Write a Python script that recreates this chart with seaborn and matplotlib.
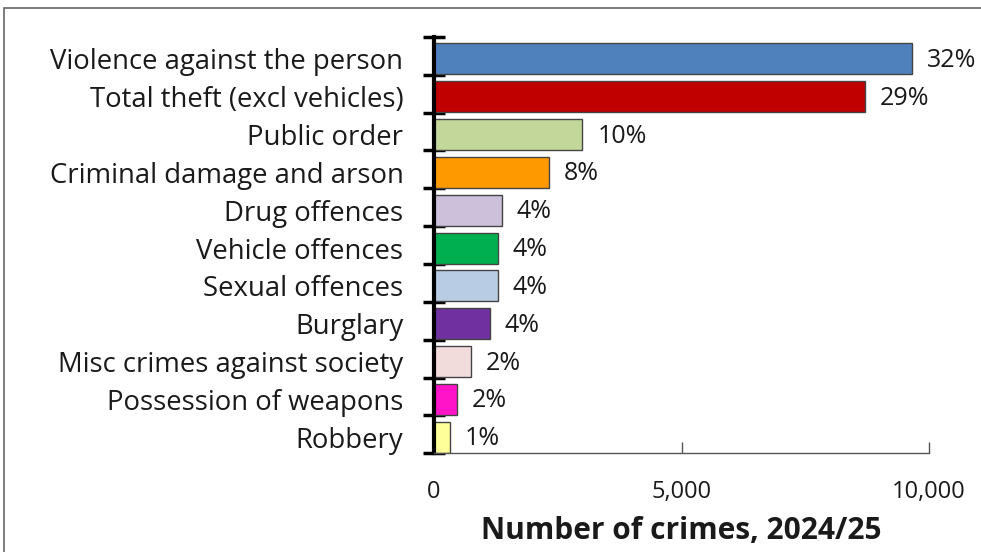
import matplotlib

matplotlib.use("Agg")
import matplotlib.pyplot as plt
import numpy as np
import pandas as pd
import seaborn as sns
from matplotlib.patches import Rectangle
from matplotlib.ticker import FixedLocator, FuncFormatter

categories = [
    "Violence against the person",
    "Total theft (excl vehicles)",
    "Public order",
    "Criminal damage and arson",
    "Drug offences",
    "Vehicle offences",
    "Sexual offences",
    "Burglary",
    "Misc crimes against society",
    "Possession of weapons",
    "Robbery",
]
crimes = [9650, 8700, 3000, 2320, 1370, 1290, 1290, 1130, 750, 465, 320]
shares = ["32%", "29%", "10%", "8%", "4%", "4%", "4%", "4%", "2%", "2%", "1%"]
colours = [
    "#4F81BD", "#C00000", "#C4D79B", "#FF9900", "#CCC0DA", "#00B050",
    "#B8CCE4", "#7030A0", "#F2DCDB", "#FF14C8", "#FFFF99",
]

df = pd.DataFrame({"category": categories, "crimes": crimes, "share": shares})

sns.set_theme(style="white")
plt.rcParams["font.family"] = ["Open Sans", "DejaVu Sans"]

fig = plt.figure(figsize=(9.81, 5.52), dpi=100)
ax = fig.add_axes([0.4424, 0.179, 0.5046, 0.754])

sns.barplot(
    data=df, y="category", x="crimes", hue="category", order=categories,
    palette=colours, saturation=1, orient="h", width=0.82,
    edgecolor="#444444", linewidth=1.0, legend=False, ax=ax,
)

for i, row in df.iterrows():
    ax.text(row.crimes + 300, i + 0.04, row.share, va="center", ha="left",
            fontsize=18, color="#1a1a1a")

# bars sit on the lower edge of each band, as in the original
shift = 0.42
ax.set_xlim(0, 10000)
ax.set_ylim(10 + shift, shift - 1)
ax.set_xticks([0, 5000, 10000])
ax.xaxis.set_major_formatter(FuncFormatter(lambda v, p: f"{int(v):,}"))
ax.tick_params(axis="x", bottom=True, direction="in", length=8, width=1,
               color="#555555", labelsize=17, pad=19, labelcolor="#1a1a1a")

ax.yaxis.set_minor_locator(FixedLocator(np.arange(shift - 1, 11, 1)))
ax.tick_params(axis="y", which="major", left=False, labelsize=19.8, pad=16,
               labelcolor="#1a1a1a")
ax.tick_params(axis="y", which="minor", left=True, direction="inout",
               length=16, width=2.5, color="black")

for side in ["top", "right"]:
    ax.spines[side].set_visible(False)
ax.spines["left"].set_linewidth(3)
ax.spines["left"].set_color("black")
ax.spines["bottom"].set_linewidth(1)
ax.spines["bottom"].set_color("#555555")

ax.set_ylabel("")
ax.set_xlabel("Number of crimes, 2024/25", fontsize=21.5, fontweight="bold",
              labelpad=9, color="#1a1a1a")

fig.patches.append(Rectangle((0.004, -0.01), 1.0, 1.0 - 0.004, transform=fig.transFigure,
                             fill=False, edgecolor="#666666", linewidth=1.2))

fig.savefig("out.png", dpi=100)
